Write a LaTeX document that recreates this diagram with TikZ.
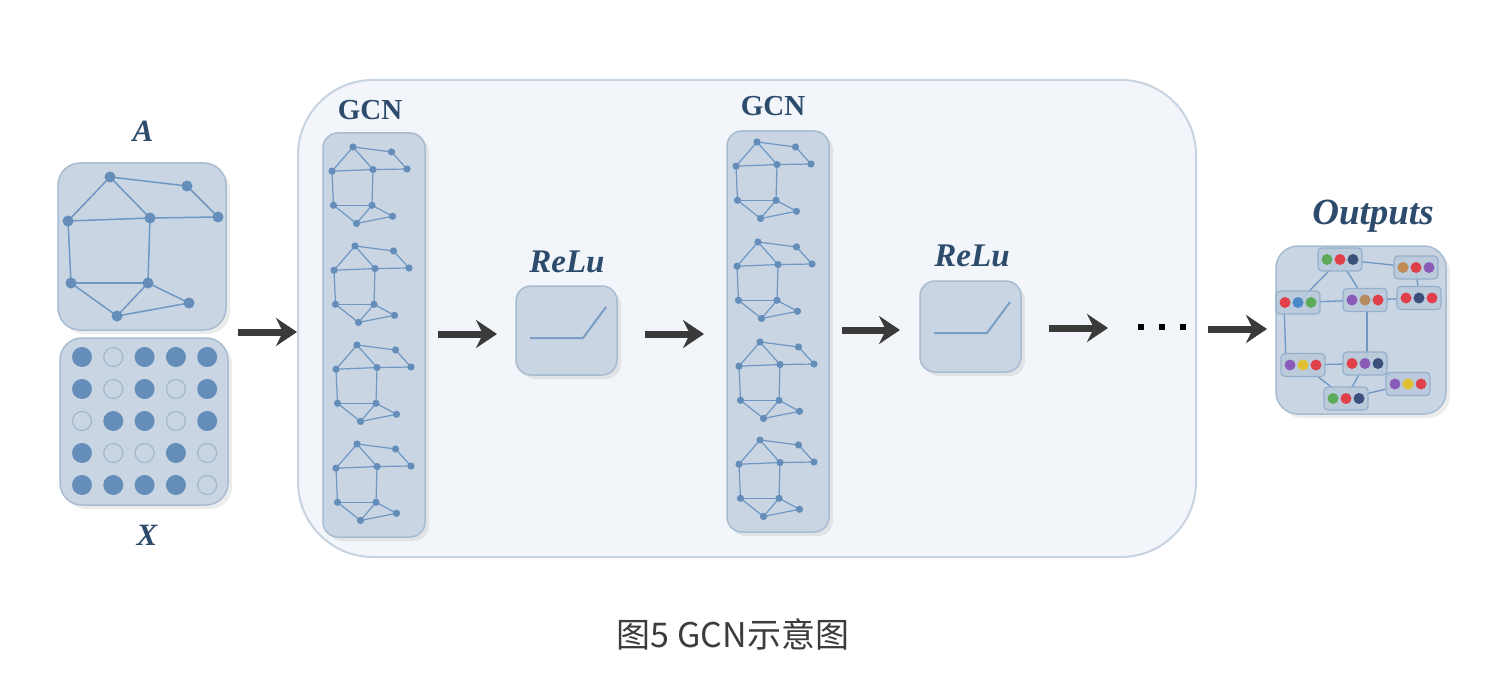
\documentclass[tikz,border=0pt]{standalone}
\usepackage{fontspec}
\newfontfamily\cjk{Noto Sans CJK SC}
\newfontfamily\lblfont{Liberation Serif}
\usetikzlibrary{arrows.meta,shadows,calc}
\definecolor{contfill}{HTML}{F2F5F9}
\definecolor{contline}{HTML}{C6D3E0}
\definecolor{boxfill}{HTML}{C9D5E2}
\definecolor{boxline}{HTML}{A8BCD1}
\definecolor{edgeblue}{HTML}{6E97C3}
\definecolor{nodeblue}{HTML}{648DBA}
\definecolor{ringblue}{HTML}{A3B8CE}
\definecolor{lblblue}{HTML}{2D4B6D}
\definecolor{arrowgray}{HTML}{3A3A3A}
\definecolor{capgray}{HTML}{3C3C3C}
\definecolor{cgreen}{HTML}{5DAA5A}
\definecolor{cred}{HTML}{E0404A}
\definecolor{cnavy}{HTML}{3A4F7A}
\definecolor{corange}{HTML}{C08A55}
\definecolor{cpurple}{HTML}{8A5CB8}
\definecolor{cblue}{HTML}{4A88C8}
\definecolor{cyellow}{HTML}{E0C030}
\definecolor{cbrown}{HTML}{B58C62}
\tikzset{
  container/.style={draw=contline, line width=2pt, fill=contfill, rounded corners=75pt},
  panel/.style={draw=boxline, line width=1.5pt, fill=boxfill, rounded corners=#1,
     drop shadow={opacity=0.15, shadow xshift=4pt, shadow yshift=-4pt}},
  panel/.default=22pt,
  lbl/.style={text=lblblue, font=\lblfont\fontsize{31}{36}\selectfont\bfseries\itshape, inner sep=0pt},
  gcnlbl/.style={text=lblblue, font=\lblfont\fontsize{29}{34}\selectfont\bfseries, inner sep=0pt},
  gedge/.style={draw=edgeblue, line width=#1},
  gnode/.style={fill=nodeblue},
  bigarrow/.style={draw=arrowgray, line width=7pt, -{Stealth[length=21pt,width=28pt,inset=7pt]}},
  obox/.style={draw=ringblue!80!nodeblue, line width=1.2pt, fill=boxfill!85!nodeblue, fill opacity=0.9,
     rounded corners=4pt, minimum width=44pt, minimum height=23pt, inner sep=0pt},
  oedge/.style={draw=edgeblue, line width=1.3pt},
  filled/.style={fill=nodeblue},
  hollow/.style={draw=ringblue, line width=1.2pt, fill=boxfill},
  ellipsisdot/.style={fill=black},
}
\newcommand\gcngraph[7]{%
  \foreach \k/\gx/\gy in {1/42/0,2/119/9,3/0/44,4/82/41,5/150/40,6/3/106,7/80/106,8/121/126,9/49/139}
    {\coordinate (#1-\k) at ({#2+#4*\gx},{#3+#5*\gy});}
  \foreach \p/\q in {1/2,1/3,1/4,2/5,3/4,4/5,3/6,4/7,6/7,6/9,7/9,7/8,9/8}
    {\draw[gedge=#7] (#1-\p) -- (#1-\q);}
  \foreach \k in {1,...,9}
    {\fill[gnode] (#1-\k) circle[radius=#6];}
}
\newcommand\obx[5]{%
  \node[obox] (#1) at (#1c) {};
  \fill[#2] ($(#1)+(-13,0)$) circle[radius=5.5];
  \fill[#3] (#1) circle[radius=5.5];
  \fill[#4] ($(#1)+(13,0)$) circle[radius=5.5];
}
\begin{document}
\begin{tikzpicture}[x=1pt,y=-1pt]
\useasboundingbox[fill=white] (0,0) rectangle (1494,690);

% container
\draw[container] (298,80) rectangle (1196,557);

% A and X panels
\draw[panel] (58,163) rectangle (226,330);
\coordinate (Abox) at (142,246);
\draw[panel] (60,338) rectangle (228,505);
\coordinate (Xbox) at (144,421);
\node[lbl] (labA) at (143,131) {A};
\node[lbl] (labX) at (147,535) {X};
\gcngraph{ga}{68}{177}{1}{1}{5.5}{1.5pt}

% X grid
\foreach \r/\row in {1/{1,0,1,1,1},2/{1,0,1,0,1},3/{0,1,1,0,1},4/{1,0,0,1,0},5/{1,1,1,1,0}}{
  \foreach \v [count=\c] in \row {
    \pgfmathsetmacro\cx{82+31.3*(\c-1)}
    \pgfmathsetmacro\cy{357+32*(\r-1)}
    \ifnum\v=1
      \fill[filled] (\cx,\cy) circle[radius=10];
    \else
      \draw[hollow] (\cx,\cy) circle[radius=9.5];
    \fi
  }
}

% GCN columns
\draw[panel=15pt] (323,133) rectangle (425,537);
\node[gcnlbl] (gcn1lbl) at (370,110) {GCN};
\gcngraph{g1a}{332}{147}{0.5}{0.55}{3.6}{1.2pt}
\gcngraph{g1b}{334}{246}{0.5}{0.55}{3.6}{1.2pt}
\gcngraph{g1c}{336}{345}{0.5}{0.55}{3.6}{1.2pt}
\gcngraph{g1d}{336}{444}{0.5}{0.55}{3.6}{1.2pt}

\draw[panel=15pt] (727,131) rectangle (829,532);
\node[gcnlbl] (gcn2lbl) at (773,106) {GCN};
\gcngraph{g2a}{736}{142}{0.5}{0.55}{3.6}{1.2pt}
\gcngraph{g2b}{737}{242}{0.5}{0.55}{3.6}{1.2pt}
\gcngraph{g2c}{739}{342}{0.5}{0.55}{3.6}{1.2pt}
\gcngraph{g2d}{739}{440}{0.5}{0.55}{3.6}{1.2pt}

% ReLu boxes
\draw[panel=15pt] (516,286) rectangle (617,375);
\node[lbl, font=\lblfont\fontsize{33}{38}\selectfont\bfseries\itshape] (relu1lbl) at (567,262) {ReLu};
\draw[draw=edgeblue!80!boxline, line width=2pt] (530,338) -- (583,338) -- (606,307);
\draw[panel=15pt] (920,281) rectangle (1021,372);
\node[lbl, font=\lblfont\fontsize{33}{38}\selectfont\bfseries\itshape] (relu2lbl) at (972,256) {ReLu};
\draw[draw=edgeblue!80!boxline, line width=2pt] (934,333) -- (987,333) -- (1010,302);

% Outputs
\draw[panel] (1276,246) rectangle (1446,414);
\node[lbl, font=\lblfont\fontsize{37}{42}\selectfont\bfseries\itshape] (outlbl) at (1373,216) {Outputs};
\coordinate (b1c) at (1340,259.5);
\coordinate (b2c) at (1416,267.5);
\coordinate (b3c) at (1298,302.5);
\coordinate (b4c) at (1365,300);
\coordinate (b5c) at (1419,298);
\coordinate (b6c) at (1303,365);
\coordinate (b7c) at (1365,363.5);
\coordinate (b8c) at (1408,384);
\coordinate (b9c) at (1346,398.5);
\foreach \p/\q in {1/2,1/3,1/4,2/5,3/4,4/5,6/7,6/9,7/9,7/8,9/8}
  {\draw[oedge] (b\p c) -- (b\q c);}
\draw[oedge] (1284,302.5) -- (1286,365);
\draw[oedge] (1367,300) -- (1367,363.5);
\obx{b1}{cgreen}{cred}{cnavy}{}
\obx{b2}{corange}{cred}{cpurple}{}
\obx{b3}{cred}{cblue}{cgreen}{}
\obx{b4}{cpurple}{cbrown}{cred}{}
\obx{b5}{cred}{cnavy}{cred}{}
\obx{b6}{cpurple}{cyellow}{cred}{}
\obx{b7}{cred}{cpurple}{cnavy}{}
\obx{b8}{cpurple}{cyellow}{cred}{}
\obx{b9}{cgreen}{cred}{cnavy}{}

% arrows
\coordinate (a1s) at (238,332); \coordinate (a1e) at (297,332);
\coordinate (a2s) at (438,334); \coordinate (a2e) at (497,334);
\coordinate (a3s) at (645,334); \coordinate (a3e) at (704,334);
\coordinate (a4s) at (842,330); \coordinate (a4e) at (900,330);
\coordinate (a5s) at (1049,328); \coordinate (a5e) at (1108,328);
\coordinate (a6s) at (1208,329); \coordinate (a6e) at (1267,329);
\foreach \i in {1,...,6} {\draw[bigarrow] (a\i s) -- (a\i e);}

% ellipsis
\foreach \dx in {1141,1162,1183} {\fill[ellipsisdot] (\dx-3.2,324) rectangle (\dx+3.2,330.4);}

% caption
\node[text=capgray, font=\cjk\fontsize{34}{40}\selectfont, inner sep=0pt] (cap) at (733,634) {图5 GCN示意图};
\end{tikzpicture}
\end{document}
